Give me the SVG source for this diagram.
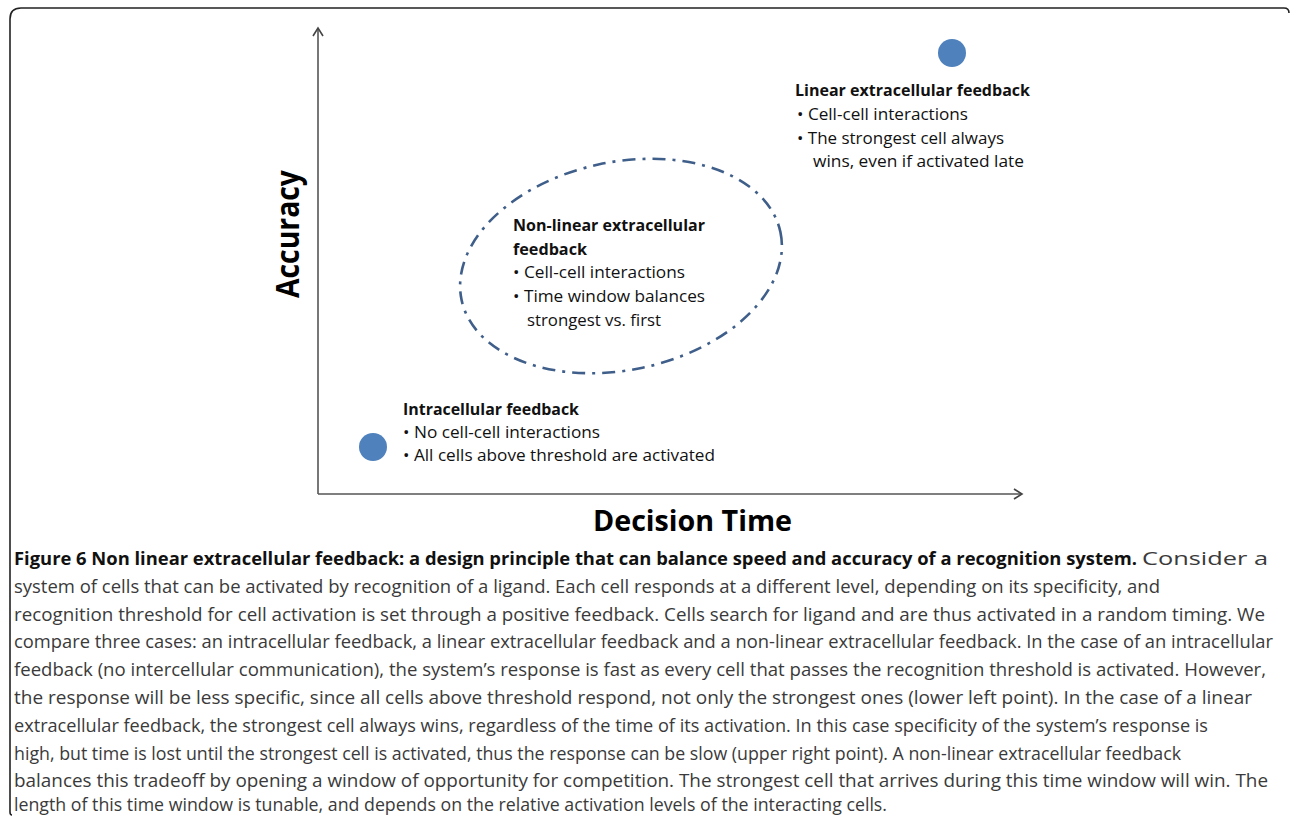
<svg xmlns="http://www.w3.org/2000/svg" width="1290" height="816" viewBox="0 0 1290 816">
<style>
.lbl{font-family:"Open Sans","Liberation Sans",sans-serif;font-size:16.5px;fill:#111}
.b{font-weight:bold}
.ax{font-family:"Open Sans","Liberation Sans",sans-serif;font-weight:bold;fill:#000}
.cap{font-family:"Open Sans","Liberation Sans",sans-serif;font-size:17.5px;fill:#3a3a3a}
.capb{font-family:"Open Sans","Liberation Sans",sans-serif;font-size:17.5px;font-weight:bold;fill:#111}
.axis{stroke:#555;stroke-width:1.6;fill:none}
.dot{fill:#4f81bd}
</style>
<defs>
<marker id="arr" markerWidth="12" markerHeight="12" refX="10" refY="6" orient="auto" markerUnits="userSpaceOnUse">
<path d="M2,1 L10,6 L2,11" fill="none" stroke="#444" stroke-width="1.6"/>
</marker>
</defs>
<rect width="1290" height="816" fill="#fff"/>
<path d="M10,812 Q10,815 12,815 M10,812 L10,19 Q10,8 21,8 L1284,8 Q1289,8 1289,13" fill="none" stroke="#222" stroke-width="1.6"/>
<g id="connectors">
<line class="axis" x1="318" y1="494" x2="318" y2="28" marker-end="url(#arr)"/>
<line class="axis" x1="318" y1="494" x2="1022" y2="494" marker-end="url(#arr)"/>
</g>
<g id="axis-y-label"><text class="ax" font-size="33" transform="translate(299,234) rotate(-90)" text-anchor="middle" textLength="128" lengthAdjust="spacingAndGlyphs">Accuracy</text></g>
<g id="axis-x-label"><text class="ax" font-size="29" x="593" y="531" textLength="199" lengthAdjust="spacingAndGlyphs">Decision Time</text></g>
<g id="linear">
<circle class="dot" cx="952" cy="53" r="14"/>
<text class="lbl b" x="795" y="96" textLength="235" lengthAdjust="spacingAndGlyphs">Linear extracellular feedback</text>
<text class="lbl" x="797" y="120" textLength="171" lengthAdjust="spacingAndGlyphs">• Cell-cell interactions</text>
<text class="lbl" x="797" y="144" textLength="207" lengthAdjust="spacingAndGlyphs">• The strongest cell always</text>
<text class="lbl" x="813" y="167" textLength="211" lengthAdjust="spacingAndGlyphs">wins, even if activated late</text>
</g>
<g id="nonlinear">
<ellipse cx="621" cy="266" rx="163" ry="104" transform="rotate(-12 621 266)" fill="none" stroke="#3f5f8a" stroke-width="2.6" stroke-dasharray="13 7 3 7"/>
<text class="lbl b" x="513" y="231" textLength="192" lengthAdjust="spacingAndGlyphs">Non-linear extracellular</text>
<text class="lbl b" x="513" y="255" textLength="74" lengthAdjust="spacingAndGlyphs">feedback</text>
<text class="lbl" x="513" y="278" textLength="172" lengthAdjust="spacingAndGlyphs">• Cell-cell interactions</text>
<text class="lbl" x="513" y="302" textLength="192" lengthAdjust="spacingAndGlyphs">• Time window balances</text>
<text class="lbl" x="527" y="326" textLength="134" lengthAdjust="spacingAndGlyphs">strongest vs. first</text>
</g>
<g id="intracellular">
<circle class="dot" cx="373" cy="447" r="14"/>
<text class="lbl b" x="403" y="415" textLength="176" lengthAdjust="spacingAndGlyphs">Intracellular feedback</text>
<text class="lbl" x="403" y="438" textLength="197" lengthAdjust="spacingAndGlyphs">• No cell-cell interactions</text>
<text class="lbl" x="403" y="461" textLength="312" lengthAdjust="spacingAndGlyphs">• All cells above threshold are activated</text>
</g>
<g id="caption">
<text class="capb" x="14" y="565" textLength="1123" lengthAdjust="spacingAndGlyphs">Figure 6 Non linear extracellular feedback: a design principle that can balance speed and accuracy of a recognition system.</text>
<text class="cap" x="1142" y="565" textLength="126" lengthAdjust="spacingAndGlyphs">Consider a</text>
<text class="cap" x="14" y="593" textLength="1146" lengthAdjust="spacingAndGlyphs">system of cells that can be activated by recognition of a ligand. Each cell responds at a different level, depending on its specificity, and</text>
<text class="cap" x="14" y="621" textLength="1251" lengthAdjust="spacingAndGlyphs">recognition threshold for cell activation is set through a positive feedback. Cells search for ligand and are thus activated in a random timing. We</text>
<text class="cap" x="14" y="648" textLength="1259" lengthAdjust="spacingAndGlyphs">compare three cases: an intracellular feedback, a linear extracellular feedback and a non-linear extracellular feedback. In the case of an intracellular</text>
<text class="cap" x="14" y="676" textLength="1252" lengthAdjust="spacingAndGlyphs">feedback (no intercellular communication), the system’s response is fast as every cell that passes the recognition threshold is activated. However,</text>
<text class="cap" x="14" y="704" textLength="1238" lengthAdjust="spacingAndGlyphs">the response will be less specific, since all cells above threshold respond, not only the strongest ones (lower left point). In the case of a linear</text>
<text class="cap" x="14" y="732" textLength="1194" lengthAdjust="spacingAndGlyphs">extracellular feedback, the strongest cell always wins, regardless of the time of its activation. In this case specificity of the system’s response is</text>
<text class="cap" x="14" y="760" textLength="1167" lengthAdjust="spacingAndGlyphs">high, but time is lost until the strongest cell is activated, thus the response can be slow (upper right point). A non-linear extracellular feedback</text>
<text class="cap" x="14" y="787" textLength="1254" lengthAdjust="spacingAndGlyphs">balances this tradeoff by opening a window of opportunity for competition. The strongest cell that arrives during this time window will win. The</text>
<text class="cap" x="14" y="811" textLength="873" lengthAdjust="spacingAndGlyphs">length of this time window is tunable, and depends on the relative activation levels of the interacting cells.</text>
</g>
</svg>
